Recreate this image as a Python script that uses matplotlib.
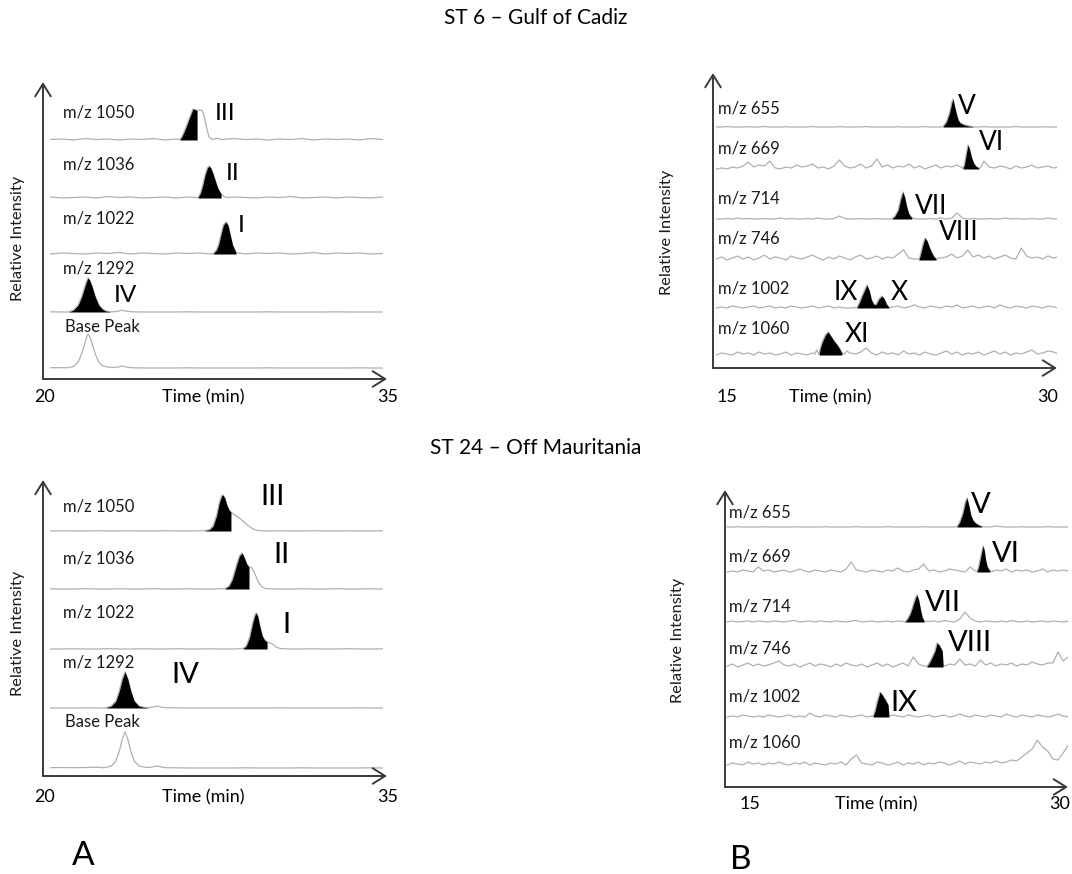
import numpy as np
import matplotlib.pyplot as plt

plt.rcParams['font.family'] = ['Lato', 'DejaVu Sans']

TRACE_GREY = '#b0b0b0'
AXIS_GREY = '#3a3a3a'
FIG_W, FIG_H = 1072, 874

# ---------------------------------------------------------------------------
# ST 6, set A (m/z 1022-1292), time grid 20.25 min, 0.5 min steps
# ---------------------------------------------------------------------------
st6a_labels = ['m/z 1050', 'm/z 1036', 'm/z 1022', 'm/z 1292', 'Base Peak']

st6a_1050 = [0.5, 1, 0, 1.5, 0.5, 1, 0, 1, 0.5, 1.5,
             0, 1, 0.5, 1, 0, 0.5, 1.5, 0.5, 1, 0,
             1, 0.5, 1.5, 0, 1, 0.5, 1, 0, 1.5, 0.5]
st6a_1050_pk_t = [25.85, 25.9, 26.0, 26.1, 26.2, 26.3, 26.4, 26.47, 26.55, 26.65,
                  26.75, 26.86, 26.95, 27.05, 27.17, 27.3, 27.52, 27.7]
st6a_1050_pk_y = [0.5, 0.5, 4, 9, 15, 21, 27, 31, 30.5, 29.5,
                  30, 29.5, 25, 14, 3, 0.5, 1.8, 0.5]

st6a_1036 = [1, 0, 0.5, 1, 0, 1.5, 0.5, 1, 0, 0.5,
             1, 0, 1, 0.5, 1.5, 0, 1, 0.5, 0, 1,
             0.5, 1.5, 0, 0.5, 1, 0, 1, 0.5, 0, 1]
st6a_1036_pk_t = [26.6, 26.69, 26.8, 26.9, 27.0, 27.1, 27.17, 27.25, 27.35, 27.45,
                  27.55, 27.7, 27.85, 28.0]
st6a_1036_pk_y = [0.5, 0.5, 5, 13, 23, 30, 32, 30, 24, 17,
                  10, 4, 1, 0.5]

st6a_1022 = [0, 1, 0.5, 0, 1, 0.5, 1.5, 0, 1, 0.5,
             0, 1, 0.5, 1, 0, 1.5, 0.5, 0, 1, 0.5,
             1, 0, 0.5, 1.5, 0, 1, 0.5, 1, 0, 0.5]
st6a_1022_pk_t = [27.3, 27.35, 27.5, 27.6, 27.7, 27.8, 27.91, 28.0, 28.1, 28.2,
                  28.35, 28.5, 28.7]
st6a_1022_pk_y = [0.3, 0.3, 4, 10, 20, 29, 32, 29, 19, 9,
                  1.5, 0.8, 0.3]

st6a_1292 = [0.2, 0, 0, 0, 0, 0, 0, 0.2, 0, 0,
             0, 0, 0.2, 0, 0, 0, 0, 0, 0, 0.2,
             0, 0, 0, 0, 0, 0.2, 0, 0, 0, 0]
st6a_1292_pk_t = [21.0, 21.05, 21.25, 21.45, 21.6, 21.75, 21.82, 21.88, 21.95, 22.05,
                  22.2, 22.35, 22.5, 22.65, 22.84, 23.0, 23.2, 23.37, 23.55, 23.8]
st6a_1292_pk_y = [0, 0.2, 2, 7, 15, 26, 31, 34, 32, 26,
                  15, 7, 3, 1, 0.3, 0.2, 0.8, 1.8, 0.8, 0.2]

st6a_base = [0.3, 0.3, 0, 0, 0, 0, 0, 0.2, 0, 0,
             0, 0, 0.2, 0, 0, 0, 0, 0, 0, 0.2,
             0, 0, 0, 0, 0, 0, 0, 0.2, 0, 0]
st6a_base_pk_t = [21.0, 21.25, 21.45, 21.6, 21.75, 21.82, 21.88, 21.95, 22.05, 22.2,
                  22.35, 22.5, 22.7, 23.0, 23.2, 23.37, 23.55, 23.8]
st6a_base_pk_y = [0.3, 1.5, 6, 14, 25, 31, 34, 32, 25, 14,
                  6, 2.5, 1, 0.5, 1, 2, 1, 0.3]

st6a_fill = [(25.9, 26.65), (26.69, 27.7), (27.35, 28.35), (21.05, 22.84), None]
st6a_peaks = ['III', 'II', 'I', 'IV']

# ---------------------------------------------------------------------------
# ST 24, set A
# ---------------------------------------------------------------------------
st24a_labels = ['m/z 1050', 'm/z 1036', 'm/z 1022', 'm/z 1292', 'Base Peak']

st24a_1050 = [0, 0.2, 0, 0, 0.3, 0, 0, 0.2, 0, 0,
              0.3, 0, 0, 0.2, 0, 0, 0, 0, 0, 0,
              0.2, 0, 0, 0.3, 0, 0, 0.2, 0, 0, 0.2]
st24a_1050_pk_t = [26.9, 27.0, 27.2, 27.35, 27.5, 27.62, 27.72, 27.78, 27.86, 27.95,
                   28.05, 28.13, 28.3, 28.5, 28.7, 28.9, 29.1, 29.3, 29.5]
st24a_1050_pk_y = [0.3, 0.5, 1.5, 5, 15, 28, 35, 36, 33, 26,
                   21, 19, 16, 13, 9, 5, 2, 0.5, 0.2]

st24a_1036 = [0.2, 0, 0, 0.3, 0, 0, 0.2, 0, 0, 0.3,
              0, 0, 0.2, 0, 0, 0, 0, 0, 0, 0,
              0, 0, 0.2, 0, 0, 0.3, 0, 0, 0.2, 0]
st24a_1036_pk_t = [27.75, 27.87, 28.05, 28.2, 28.35, 28.5, 28.61, 28.72, 28.82, 28.92,
                   29.05, 29.2, 29.35, 29.5, 29.65, 29.8]
st24a_1036_pk_y = [0.3, 0.5, 3, 10, 22, 33, 36, 31, 25, 22,
                   21, 14, 6, 2, 0.5, 0.2]

st24a_1022 = [0, 0, 0.2, 0, 0, 0.3, 0, 0, 0.2, 0,
              0, 0.3, 0, 0, 0.2, 0, 0, 0, 0, 0,
              0, 0, 0, 0.2, 0, 0, 0.3, 0, 0, 0.2]
st24a_1022_pk_t = [28.5, 28.66, 28.8, 28.95, 29.08, 29.18, 29.23, 29.3, 29.4, 29.5,
                   29.6, 29.71, 29.85, 29.95, 30.1, 30.28, 30.5]
st24a_1022_pk_y = [0.3, 0.5, 3, 12, 26, 34, 36, 33, 22, 13,
                   9, 7, 6, 5, 2, 0.5, 0.2]

st24a_1292 = [0, 0, 0, 0.2, 0, 0, 0, 0, 0, 0,
              0, 0.2, 0, 0, 0, 0, 0, 0, 0, 0,
              0.2, 0, 0, 0, 0, 0, 0, 0.2, 0, 0]
st24a_1292_pk_t = [22.5, 22.67, 22.9, 23.1, 23.25, 23.38, 23.5, 23.62, 23.75, 23.9,
                   24.1, 24.3, 24.5, 24.7, 24.9, 25.1, 25.3]
st24a_1292_pk_y = [0, 0.3, 2, 7, 17, 29, 36, 29, 17, 7,
                   2, 0.8, 0.3, 0.8, 2, 0.8, 0.2]

st24a_base = [0.3, 0.5, 0.3, 0.5, 0.8, 0.5, 0.3, 0.2, 0, 0,
              0, 0.2, 0, 0, 0, 0, 0, 0.2, 0, 0,
              0, 0, 0.2, 0, 0, 0, 0, 0, 0.2, 0]
st24a_base_pk_t = [22.6, 22.9, 23.1, 23.25, 23.38, 23.5, 23.62, 23.75, 23.9, 24.1,
                   24.3, 24.5, 24.7, 24.9, 25.1, 25.3]
st24a_base_pk_y = [0.3, 2, 7, 17, 29, 36, 29, 17, 7, 2,
                   1, 0.5, 1, 2, 1, 0.3]

st24a_fill = [(27.0, 28.13), (27.87, 28.92), (28.66, 29.71), (22.67, 24.5), None]
st24a_peaks = ['III', 'II', 'I', 'IV']

# ---------------------------------------------------------------------------
# ST 6, set B (m/z 655-1060), time grid 14.5 min, 0.25 min steps
# ---------------------------------------------------------------------------
st6b_labels = ['m/z 655', 'm/z 669', 'm/z 714', 'm/z 746', 'm/z 1002', 'm/z 1060']

st6b_655 = [0, 0, 0.5, 0, 0, 0, 0.3, 0, 0, 0.5,
            0, 0, 0, 0.3, 0, 0, 0, 0, 0.5, 0,
            0, 0, 0, 0.3, 0, 0, 0, 0, 0.5, 0,
            0, 0, 0, 0, 0.3, 0, 0, 0, 0, 0.5,
            0, 0, 0, 0, 0, 0, 0, 0, 0, 0,
            0.3, 0, 0, 0, 0, 0, 0.5, 0, 0, 0,
            0, 0.3, 0, 0, 0]
st6b_655_pk_t = [25.0, 25.09, 25.25, 25.4, 25.5, 25.56, 25.62, 25.72, 25.8, 25.9,
                 26.1, 26.3, 26.5, 26.6]
st6b_655_pk_y = [0, 0.3, 5, 14, 24, 28, 22, 13, 7, 4,
                 2, 1, 0.3, 0]

st6b_669 = [0, 1, 0, 2, 1, 3, 7, 2, 4, 3,
            8, 1, 0, 2, 1, 4, 2, 3, 5, 1,
            2, 0, 3, 9, 3, 1, 2, 5, 1, 3,
            10, 2, 4, 1, 3, 2, 5, 1, 3, 0,
            2, 4, 1, 3, 2, 4, 1, 0, 0, 0,
            8, 2, 1, 3, 2, 0, 3, 1, 2, 4,
            1, 2, 3, 1, 2]
st6b_669_pk_t = [26.0, 26.03, 26.1, 26.18, 26.26, 26.33, 26.42, 26.52, 26.62, 26.78, 26.9]
st6b_669_pk_y = [1, 0.5, 5, 15, 24, 20, 12, 6, 3, 0.5, 3]

st6b_714 = [0, 0, 0.5, 0, 1, 0, 0.5, 0, 0, 0.5,
            0, 0, 1, 0, 0.5, 0, 0, 0.5, 0, 1,
            0, 0, 0.5, 3, 0.5, 0, 0, 0.5, 0, 0,
            0.5, 0, 0, 0, 0, 0, 0, 0.5, 0, 0,
            0.5, 0, 1, 0, 1, 6, 1, 0, 0.5, 0,
            0, 0.5, 0, 0, 1, 0, 0.5, 0, 0, 0.5,
            0, 0, 1, 0, 0.5]
st6b_714_pk_t = [22.6, 22.71, 22.85, 23.0, 23.12, 23.22, 23.3, 23.4, 23.5, 23.64, 23.8]
st6b_714_pk_y = [0, 0.3, 3, 9, 20, 27, 22, 12, 5, 1, 0.3]

st6b_746 = [1, 3, 0, 2, 4, 1, 3, 0, 2, 5,
            1, 3, 2, 0, 4, 2, 1, 3, 5, 2,
            0, 3, 1, 4, 2, 0, 3, 5, 1, 2,
            4, 1, 3, 2, 6, 10, 2, 1, 0, 0,
            2, 0, 2, 3, 6, 2, 4, 10, 3, 5,
            2, 4, 1, 3, 5, 2, 1, 12, 4, 2,
            3, 1, 4, 2, 3]
st6b_746_pk_t = [23.9, 23.97, 24.05, 24.15, 24.25, 24.35, 24.45, 24.55, 24.65, 24.77, 24.9]
st6b_746_pk_y = [1, 0.5, 6, 15, 22, 19, 13, 8, 4, 1, 2]

st6b_1002 = [0, 1, 0, 2, 1, 0, 1, 2, 0, 1,
             2, 0, 1, 0, 2, 1, 0, 1, 2, 0,
             1, 2, 0, 1, 0, 0, 0, 0, 0, 0,
             0, 0, 0, 1, 2, 0, 1, 3, 1, 0,
             2, 1, 0, 2, 1, 3, 0, 1, 2, 0,
             1, 2, 0, 3, 1, 0, 2, 1, 0, 2,
             1, 0, 2, 1, 0]
st6b_1002_pk_t = [21.0, 21.07, 21.2, 21.35, 21.54, 21.65, 21.75, 21.88, 21.98, 22.1,
                  22.24, 22.35, 22.45, 22.57, 22.7]
st6b_1002_pk_y = [0.5, 0.3, 6, 14, 23, 17, 8, 3, 4, 9,
                  12, 9, 4, 0.5, 1]

st6b_1060 = [0, 2, 1, 0, 3, 1, 2, 0, 3, 1,
             2, 0, 1, 3, 0, 2, 1, 0, 2, 0,
             0, 0, 0, 0, 0, 2, 1, 3, 7, 2,
             0, 3, 1, 2, 0, 4, 1, 2, 0, 3,
             1, 0, 2, 4, 1, 3, 0, 2, 1, 3,
             0, 2, 4, 1, 3, 0, 2, 1, 3, 5,
             1, 2, 4, 3, 1]
st6b_1060_pk_t = [19.1, 19.2, 19.3, 19.35, 19.45, 19.6, 19.72, 19.85, 20.0, 20.15,
                  20.27, 20.37, 20.5, 20.6]
st6b_1060_pk_y = [1, 5, 0.5, 6, 13, 20, 23, 19, 14, 10,
                  6, 2, 1, 4]

st6b_fill = [(25.09, 26.5), (26.03, 26.78), (22.71, 23.64), (23.97, 24.77),
             (21.07, 22.57), (19.3, 20.37)]
st6b_peaks = ['V', 'VI', 'VII', 'VIII', 'IX', 'X', 'XI']

# ---------------------------------------------------------------------------
# ST 24, set B, time grid 13.9 min, 0.25 min steps
# ---------------------------------------------------------------------------
st24b_labels = ['m/z 655', 'm/z 669', 'm/z 714', 'm/z 746', 'm/z 1002', 'm/z 1060']

st24b_655 = [0, 0, 0.3, 0, 0, 0, 0, 0.3, 0, 0,
             0, 0, 0, 0.3, 0, 0, 0, 0, 0, 0.3,
             0, 0, 0, 0, 0, 0.3, 0, 0, 0, 0,
             0, 0.3, 0, 0, 0, 0, 0, 0, 0.3, 0,
             0, 0, 0, 0, 0, 0, 0, 0, 0, 0,
             0, 0, 1, 0.3, 0, 0, 0, 0.3, 0, 0,
             0, 0, 0.3, 0, 0, 0, 0]
st24b_655_pk_t = [24.9, 25.01, 25.15, 25.3, 25.42, 25.5, 25.58, 25.68, 25.78, 25.9,
                  26.05, 26.22, 26.4]
st24b_655_pk_y = [0, 0.3, 5, 14, 25, 29, 22, 12, 7, 4,
                  2, 0.5, 0.2]

st24b_669 = [0, 1, 0, 2, 1, 0, 5, 1, 2, 0,
             1, 2, 0, 1, 3, 1, 0, 2, 1, 0,
             2, 1, 0, 3, 10, 2, 1, 0, 2, 1,
             0, 2, 1, 4, 1, 0, 2, 3, 8, 1,
             2, 0, 1, 3, 2, 1, 0, 5, 0, 0,
             0, 0, 2, 1, 3, 0, 2, 1, 2, 0,
             1, 3, 0, 2, 1, 2, 1]
st24b_669_pk_t = [25.9, 25.98, 26.06, 26.15, 26.27, 26.33, 26.4, 26.48, 26.61, 26.75]
st24b_669_pk_y = [1, 0.5, 5, 14, 26, 22, 12, 5, 1, 0.5]

st24b_714 = [0, 1, 0, 0.5, 1, 0, 1, 0.5, 0, 1,
             0.5, 0, 1, 1.5, 0, 0.5, 1, 0, 1, 0.5,
             0, 1, 0.5, 0, 1, 1.5, 0, 0.5, 1, 0,
             0.5, 1, 0, 1, 0, 0, 0, 0, 0, 0.5,
             1, 0, 1.5, 0.5, 0, 3, 10, 4, 1, 0,
             1, 0.5, 0, 1, 0, 1.5, 0.5, 0, 1, 0,
             0.5, 1, 0, 1, 0.5, 0, 1]
st24b_714_pk_t = [22.4, 22.5, 22.62, 22.75, 22.88, 23.0, 23.08, 23.16, 23.25, 23.33,
                  23.42, 23.55]
st24b_714_pk_y = [0.5, 0.3, 3, 8, 16, 24, 27, 22, 12, 5,
                  1, 0.5]

st24b_746 = [1, 3, 0, 2, 4, 1, 3, 1, 2, 4,
             6, 2, 1, 3, 0, 2, 4, 1, 3, 2,
             0, 3, 1, 4, 2, 1, 3, 0, 2, 4,
             1, 3, 0, 2, 4, 1, 10, 3, 1, 0,
             0, 0, 0, 3, 2, 8, 2, 3, 1, 7,
             2, 4, 1, 3, 2, 4, 1, 3, 2, 5,
             3, 2, 4, 4, 15, 6, 10]
st24b_746_pk_t = [23.45, 23.56, 23.7, 23.82, 23.95, 24.05, 24.15, 24.25, 24.3, 24.34, 24.45]
st24b_746_pk_y = [1, 0.5, 5, 10, 16, 24, 22, 18, 16, 2, 1]

st24b_1002 = [0, 1, 0, 2, 1, 0, 1, 0, 2, 1,
              0, 1, 2, 0, 1, 0, 4, 1, 0, 2,
              1, 0, 2, 1, 0, 1, 2, 0, 0, 0,
              0, 0, 2, 1, 0, 2, 1, 0, 1, 2,
              0, 1, 2, 0, 1, 3, 1, 0, 2, 1,
              0, 2, 1, 0, 3, 1, 0, 2, 1, 0,
              2, 1, 0, 1, 3, 1, 0]
st24b_1002_pk_t = [20.85, 20.95, 21.05, 21.15, 21.29, 21.4, 21.55, 21.68, 21.72, 21.85]
st24b_1002_pk_y = [1, 0.5, 6, 15, 25, 22, 17, 12, 1, 1.5]

st24b_1060 = [0, 2, 1, 0, 3, 1, 2, 0, 2, 1,
              3, 1, 0, 2, 1, 3, 0, 2, 1, 0,
              2, 1, 3, 0, 6, 10, 2, 1, 0, 3,
              2, 0, 1, 3, 0, 2, 1, 3, 0, 2,
              1, 3, 2, 0, 2, 4, 1, 3, 2, 1,
              3, 2, 4, 2, 3, 5, 4, 8, 12, 16,
              25, 18, 14, 6, 5, 12, 20]

st24b_fill = [(25.01, 26.22), (25.98, 26.61), (22.5, 23.42), (23.56, 24.34),
              (20.95, 21.72), None]
st24b_peaks = ['V', 'VI', 'VII', 'VIII', 'IX']


def build_trace(t0, step, noise, pk_t=(), pk_y=()):
    """Baseline samples with the peak samples dropped in over their window."""
    t = t0 + step * np.arange(len(noise))
    y = np.asarray(noise, dtype=float)
    if len(pk_t):
        keep = (t < pk_t[0]) | (t > pk_t[-1])
        t = np.concatenate([t[keep], pk_t])
        y = np.concatenate([y[keep], pk_y])
    order = np.argsort(t)
    return t[order], y[order]


fig = plt.figure(figsize=(FIG_W / 100, FIG_H / 100), dpi=100)


def px_x(x):
    return x / FIG_W


def px_y(y):
    return 1 - y / FIG_H


def make_panel(left, right, bottom, top, t_min, px_per_min, t_ref):
    """Axes whose left edge is the intensity arrow and bottom edge the time arrow."""
    ax = fig.add_axes([px_x(left), px_y(bottom), (right - left) / FIG_W,
                       (bottom - top) / FIG_H])
    ax.set_xlim(t_min + (left - t_ref) / px_per_min,
                t_min + (right - t_ref) / px_per_min)
    ax.set_ylim(0, bottom - top)
    ax.set_axis_off()
    arrow = dict(arrowstyle='->,head_length=0.45,head_width=0.28', color=AXIS_GREY,
                 lw=1.4, shrinkA=0, shrinkB=0, mutation_scale=20)
    ax.annotate('', xy=(1, 0), xytext=(0, 0), xycoords='axes fraction',
                arrowprops=arrow)
    ax.annotate('', xy=(0, 1), xytext=(0, 0), xycoords='axes fraction',
                arrowprops=arrow)
    return ax


def draw_traces(ax, traces, offsets, fills):
    for (t, y), base, win in zip(traces, offsets, fills):
        ax.plot(t, base + y, color=TRACE_GREY, lw=0.9, zorder=2)
        if win is not None:
            m = (t >= win[0] - 1e-9) & (t <= win[1] + 1e-9)
            ax.fill_between(t[m], base, base + y[m], color='black', lw=0, zorder=3)


def draw_labels(ax, labels, label_x, label_y, size=12):
    for txt, lx, ly in zip(labels, label_x, label_y):
        ax.text(lx, ly, txt, ha='left', va='center', fontsize=size, color='#1a1a1a')


def draw_peak_names(ax, names, pos, size):
    for name, (px, py) in zip(names, pos):
        ax.text(px, py, name, ha='center', va='center', fontsize=size, color='black')


def draw_time_axis(ax, t_lo, t_hi, t_mid, y, size=13):
    ax.text(t_lo, y, f'{t_lo:g}', ha='center', va='center', fontsize=size, clip_on=False)
    ax.text(t_hi, y, f'{t_hi:g}', ha='center', va='center', fontsize=size, clip_on=False)
    ax.text(t_mid, y, 'Time (min)', ha='center', va='center', fontsize=size, clip_on=False)


def y_label(x, y):
    fig.text(px_x(x), px_y(y), 'Relative Intensity', rotation=90, ha='center',
             va='center', fontsize=11.8, color='#1a1a1a')


# ST 6 - set A
ax = make_panel(43, 387, 379, 82, 20, 22.87, 45)
tr = [build_trace(20.25, 0.5, st6a_1050, st6a_1050_pk_t, st6a_1050_pk_y),
      build_trace(20.25, 0.5, st6a_1036, st6a_1036_pk_t, st6a_1036_pk_y),
      build_trace(20.25, 0.5, st6a_1022, st6a_1022_pk_t, st6a_1022_pk_y),
      build_trace(20.25, 0.5, st6a_1292, st6a_1292_pk_t, st6a_1292_pk_y),
      build_trace(20.25, 0.5, st6a_base, st6a_base_pk_t, st6a_base_pk_y)]
draw_traces(ax, tr, [239, 181, 125, 67, 11], st6a_fill)
draw_labels(ax, st6a_labels, [20.79] * 4 + [20.87], [266, 215, 161, 110, 52])
draw_peak_names(ax, st6a_peaks, [(27.87, 265), (28.22, 206), (28.57, 154), (23.5, 84)], 17.5)
draw_time_axis(ax, 20, 35, 26.91, -18)
y_label(18, 238)

# ST 6 - set B
ax = make_panel(713, 1057, 368, 73, 15, 21.4, 727)
tr = [build_trace(14.5, 0.25, st6b_655, st6b_655_pk_t, st6b_655_pk_y),
      build_trace(14.5, 0.25, st6b_669, st6b_669_pk_t, st6b_669_pk_y),
      build_trace(14.5, 0.25, st6b_714, st6b_714_pk_t, st6b_714_pk_y),
      build_trace(14.5, 0.25, st6b_746, st6b_746_pk_t, st6b_746_pk_y),
      build_trace(14.5, 0.25, st6b_1002, st6b_1002_pk_t, st6b_1002_pk_y),
      build_trace(14.5, 0.25, st6b_1060, st6b_1060_pk_t, st6b_1060_pk_y)]
draw_traces(ax, tr, [241, 199, 149, 108, 60, 13], st6b_fill)
draw_labels(ax, st6b_labels, [14.58] * 6, [260, 220, 170, 130, 80, 40])
draw_peak_names(ax, st6b_peaks, [(26.21, 261), (27.34, 225), (24.53, 161), (25.84, 135),
                                 (20.56, 75), (23.04, 75), (21.07, 33)], 19)
draw_time_axis(ax, 15, 30, 19.81, -29)
y_label(667, 232)

# ST 24 - set A
ax = make_panel(43, 387, 776, 480, 20, 22.87, 45)
tr = [build_trace(20.25, 0.5, st24a_1050, st24a_1050_pk_t, st24a_1050_pk_y),
      build_trace(20.25, 0.5, st24a_1036, st24a_1036_pk_t, st24a_1036_pk_y),
      build_trace(20.25, 0.5, st24a_1022, st24a_1022_pk_t, st24a_1022_pk_y),
      build_trace(20.25, 0.5, st24a_1292, st24a_1292_pk_t, st24a_1292_pk_y),
      build_trace(20.25, 0.5, st24a_base, st24a_base_pk_t, st24a_base_pk_y)]
draw_traces(ax, tr, [245, 187, 127, 68, 8], st24a_fill)
draw_labels(ax, st24a_labels, [20.79] * 4 + [20.87], [269, 217, 163, 113, 54])
draw_peak_names(ax, st24a_peaks, [(29.97, 279), (30.32, 221), (30.54, 151), (26.12, 101)], 21)
draw_time_axis(ax, 20, 35, 26.91, -21)
y_label(18, 633)

# ST 24 - set B
ax = make_panel(725, 1068, 787, 490, 15, 20.67, 750)
tr = [build_trace(13.9, 0.25, st24b_655, st24b_655_pk_t, st24b_655_pk_y),
      build_trace(13.9, 0.25, st24b_669, st24b_669_pk_t, st24b_669_pk_y),
      build_trace(13.9, 0.25, st24b_714, st24b_714_pk_t, st24b_714_pk_y),
      build_trace(13.9, 0.25, st24b_746, st24b_746_pk_t, st24b_746_pk_y),
      build_trace(13.9, 0.25, st24b_1002, st24b_1002_pk_t, st24b_1002_pk_y),
      build_trace(13.9, 0.25, st24b_1060)]
draw_traces(ax, tr, [260, 215, 165, 120, 70, 22], st24b_fill)
draw_labels(ax, st24b_labels, [13.98] * 6, [275, 230, 180, 139, 90, 45])
draw_peak_names(ax, st24b_peaks, [(26.18, 282), (27.39, 233), (24.34, 184), (25.64, 144),
                                  (22.45, 84)], 21)
draw_time_axis(ax, 15, 30, 21.1, -17)
y_label(678, 640)

# station titles and panel letters
fig.text(0.5, px_y(18), 'ST 6 \u2013 Gulf of Cadiz', ha='center', va='center', fontsize=15)
fig.text(0.5, px_y(448), 'ST 24 \u2013 Off Mauritania', ha='center', va='center', fontsize=15)
fig.text(px_x(83), px_y(856), 'A', ha='center', va='center', fontsize=24)
fig.text(px_x(741), px_y(860), 'B', ha='center', va='center', fontsize=24)

fig.savefig('out.png', dpi=100)
